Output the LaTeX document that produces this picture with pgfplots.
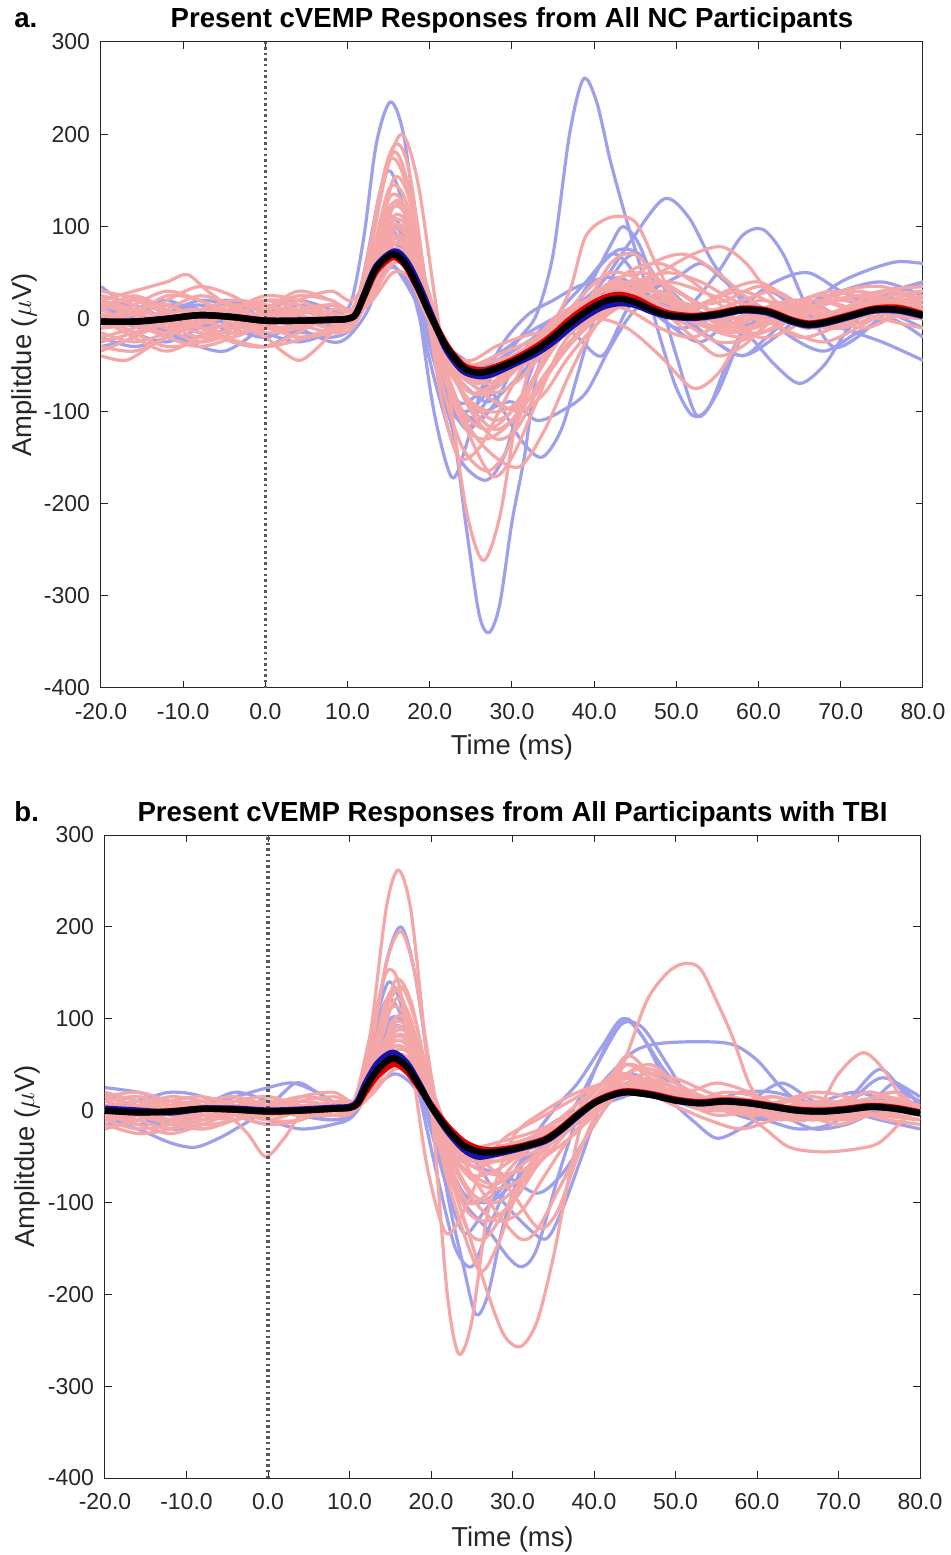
\documentclass[border=0pt]{standalone}
\usepackage{pgfplots}
\pgfplotsset{compat=1.18}
\usepackage{fontspec}
\setmainfont{Liberation Sans}

\definecolor{blueL}{RGB}{158,160,236}
\definecolor{redL}{RGB}{245,166,166}
\definecolor{blueM}{RGB}{20,20,170}
\definecolor{redM}{RGB}{225,0,0}
\definecolor{axgray}{RGB}{38,38,38}
\definecolor{dotgray}{RGB}{90,90,90}

\pgfplotsset{
  bl/.style={blueL, line width=1.6pt, smooth, no markers, line join=round},
  rd/.style={redL, line width=1.6pt, smooth, no markers, line join=round},
  mean/.style={line width=3.2pt, smooth, no markers, line join=round},
  zeroline/.style={dotgray, line width=1.7pt, dash pattern=on 1.2pt off 1.6pt, no markers},
  cvemp/.style={
    scale only axis,
    xmin=-20, xmax=80, ymin=-400, ymax=300,
    xtick={-20,-10,...,80}, ytick={-400,-300,...,300},
    tick pos=both, tick align=inside, major tick length=3.5pt,
    axis line style={axgray, line width=0.5pt},
    every tick/.style={axgray, line width=0.5pt},
    ticklabel style={font=\fontsize{11.5}{13}\selectfont, text=axgray},
    /pgf/number format/assume math mode=true,
    x tick label style={/pgf/number format/.cd, fixed, fixed zerofill, precision=1, /tikz/.cd, yshift=-4pt},
    y tick label style={xshift=-2pt},
    title style={font=\bfseries\fontsize{13.8}{16}\selectfont, at={(0.5,1)}, anchor=base, yshift=1pt},
    xlabel style={font=\fontsize{13.7}{16}\selectfont, text=axgray, at={(0.5,0)}, anchor=base, yshift=-33.5pt},
    ylabel style={font=\fontsize{13.7}{16}\selectfont, text=axgray, at={(0,0.5)}, anchor=center, yshift=38.5pt},
    xlabel={Time (ms)},
    ylabel={Amplitdue ($\mu$V)},
  },
}

\begin{document}
\begin{tikzpicture}
\path[use as bounding box] (0,0) rectangle (475.5pt,777.5pt);

% ---------------- panel a: NC ----------------
\begin{axis}[cvemp, at={(50.5pt,433.5pt)}, anchor=south west, width=411pt, height=323pt,
  title={Present cVEMP Responses from All NC Participants}]
% blue
\addplot[bl] coordinates {(-20,35) (-17,15) (-14,-5) (-11,-15) (-8,0) (-5,20) (-2,10) (0,-5) (3,-15) (6,-5) (9,5) (10.5,20) (12,90) (13.5,190) (15.2,235) (16.8,200) (18.5,90) (20,-10) (21.5,-80) (23,-130) (24.5,-230) (26,-320) (27.2,-340) (28.5,-310) (30,-220) (31.5,-150) (33,-60) (35,-10) (38,15) (42,30) (46,15) (50,-10) (54,0) (58,20) (62,5) (66,-10) (70,5) (75,15) (80,5)};
\addplot[bl] coordinates {(-20,-10) (-16,5) (-12,15) (-8,10) (-4,-10) (0,-20) (4,-5) (8,5) (10.5,5) (12.5,40) (15,100) (17,85) (19,30) (21,-40) (23.5,-90) (26,-80) (28.5,-50) (31,-20) (33,5) (35,70) (37,200) (38.7,260) (40.3,235) (42,170) (44,105) (46,45) (48,-20) (50,-75) (52,-105) (54,-95) (56.5,-40) (59,0) (62,10) (66,-10) (70,10) (75,25) (80,10)};
\addplot[bl] coordinates {(-20,5) (-16,-15) (-12,-25) (-8,-10) (-4,5) (0,15) (4,5) (8,-10) (10.5,0) (12,50) (14,140) (15.2,160) (16.8,120) (18.5,20) (20.5,-100) (22.7,-172) (24.5,-135) (26.5,-70) (29,-25) (32,5) (35,20) (38,35) (42,45) (45,30) (49,-5) (53,-25) (57,5) (61,30) (65,10) (70,-10) (75,25) (80,40)};
\addplot[bl] coordinates {(-20,-20) (-16,-30) (-12,-20) (-8,-5) (-4,-25) (0,-30) (4,-15) (8,-20) (10.5,-10) (12.5,30) (14.5,100) (16.5,80) (18.5,10) (21,-80) (23.5,-150) (26.7,-175) (29,-150) (31,-90) (33.5,-30) (36,10) (39,40) (42,70) (44,60) (47,20) (50,10) (54,-20) (58,-40) (61,-20) (65,10) (70,30) (75,40) (80,25)};
\addplot[bl] coordinates {(-20,10) (-16,20) (-12,5) (-8,-15) (-4,-10) (0,10) (4,20) (8,10) (10.5,0) (12.5,25) (15,60) (17,40) (19.5,0) (22,-30) (25,-50) (28,-85) (31,-130) (33.6,-150) (36,-120) (38,-60) (40,0) (42.5,50) (45,70) (48,40) (51,0) (54,-20) (58,-40) (62,-20) (66,10) (70,20) (75,10) (80,-10)};
\addplot[bl] coordinates {(-20,-5) (-16,10) (-12,20) (-8,5) (-4,-15) (0,-10) (4,10) (8,15) (10.5,10) (12.5,50) (15,110) (17,90) (19,30) (21.5,-50) (24,-100) (27,-80) (30,-45) (34,-15) (38,15) (41,40) (44.5,85) (48.5,130) (51.5,110) (54.5,60) (58,20) (62,0) (66,15) (70,40) (74,55) (77,62) (80,60)};
\addplot[bl] coordinates {(-20,15) (-16,0) (-12,-15) (-8,-30) (-5,-35) (-2,-20) (1,5) (4,15) (8,5) (10.5,0) (12.5,30) (15,75) (17,60) (19,10) (21.5,-40) (24,-70) (27,-90) (30,-70) (33,-40) (36,-10) (40,15) (44,35) (48,20) (51,10) (55,50) (58,90) (60.5,97) (63,70) (66,10) (69,-30) (72,-20) (76,10) (80,20)};
\addplot[bl] coordinates {(-20,0) (-15,-10) (-10,-20) (-6,-15) (-2,0) (2,10) (6,-5) (10,-5) (12,20) (14.5,90) (16.5,85) (18.5,20) (21,-60) (23.5,-110) (26,-100) (29,-60) (33,-20) (36,0) (39,30) (42,80) (43.5,100) (45.5,80) (48,20) (50,-40) (52.5,-105) (55,-80) (58,-20) (62,10) (66,0) (70,-10) (75,-25) (80,-45)};
\addplot[bl] coordinates {(-20,25) (-16,15) (-12,0) (-8,-10) (-4,5) (0,20) (4,10) (8,0) (10.5,0) (12.5,35) (15,80) (17,70) (19,20) (21.5,-35) (24,-60) (27,-50) (31,-30) (35,-5) (38,20) (40.5,55) (43,75) (45.5,70) (48,40) (52,10) (56,0) (59,-20) (62,-50) (65,-70) (68,-50) (71,-10) (75,20) (80,40)};
\addplot[bl] coordinates {(-20,-30) (-16,-20) (-12,5) (-8,15) (-4,0) (0,-15) (4,-25) (8,-15) (10.5,-5) (12.5,20) (15,55) (17,45) (19,5) (22,-40) (25,-55) (28,-40) (32,-15) (36,5) (40,25) (43,45) (46,30) (50,45) (53,60) (56,40) (60,10) (64,-20) (68,-35) (72,-15) (76,0) (80,-20)};
\addplot[bl] coordinates {(-20,5) (-16,-5) (-12,-10) (-8,5) (-4,20) (0,5) (4,-10) (8,-25) (10,-20) (12.5,10) (15,70) (17,60) (19,0) (21.5,-60) (24,-100) (26,-110) (28,-90) (31,-40) (35,0) (38,-20) (41,-40) (44,10) (47,40) (50,30) (54,10) (58,-10) (62,15) (66,20) (70,5) (75,30) (80,35)};
\addplot[bl] coordinates {(-20,10) (-14,0) (-8,20) (-3,10) (2,-10) (7,0) (10.5,5) (13,40) (15.5,90) (17.5,70) (19.5,0) (22,-80) (24.5,-120) (27,-100) (30,-90) (33,-110) (36,-100) (39,-80) (42,-30) (45,10) (49,30) (53,0) (57,10) (62,40) (66,50) (70,30) (75,10) (80,0)};
% red
\addplot[rd] coordinates {(-20,-40) (-17,-45) (-14,-30) (-10,-10) (-6,10) (-2,5) (2,-10) (6,-5) (10,0) (12,40) (14,140) (16.5,200) (18.5,150) (20.5,30) (22.5,-90) (24.5,-210) (26.5,-262) (28.5,-215) (30.5,-110) (33,-30) (36,5) (40,20) (44,30) (48,15) (52,0) (56,-10) (60,5) (65,15) (70,5) (75,10) (80,15)};
\addplot[rd] coordinates {(-20,20) (-16,30) (-12,40) (-9.5,48) (-7,30) (-3,5) (0,-10) (4,-5) (8,10) (10.5,10) (12.5,60) (14.5,160) (16,190) (17.5,160) (19.5,40) (21.5,-70) (24,-140) (27,-165) (29.5,-140) (32,-80) (35,-30) (38,10) (42,40) (46,50) (50,30) (54,10) (58,20) (62,30) (66,10) (70,-5) (75,15) (80,25)};
\addplot[rd] coordinates {(-20,-20) (-16,-10) (-12,5) (-8,10) (-4,-5) (0,-20) (2,-35) (4.2,-45) (6.5,-30) (9,-5) (11,15) (13,90) (15.5,180) (17.5,140) (19.5,20) (21.5,-90) (23.5,-150) (26,-140) (29,-90) (32,-40) (35,0) (39,20) (43,40) (47,30) (51,10) (55,0) (59,-10) (63,5) (67,20) (71,10) (75,0) (80,10)};
\addplot[rd] coordinates {(-20,5) (-16,-15) (-12,-30) (-8,-25) (-4,-10) (0,10) (4,30) (8,20) (10.5,10) (12.5,60) (15,170) (17,150) (19,60) (21.5,-40) (24,-100) (27,-120) (30,-100) (33,-60) (36,-20) (39,10) (43,30) (47,60) (51,70) (55,50) (59,20) (63,0) (67,-10) (71,0) (75,20) (80,10)};
\addplot[rd] coordinates {(-20,30) (-15,20) (-10,0) (-5,-20) (0,-30) (5,-20) (10,0) (12.5,50) (15,140) (17,130) (19,50) (21.5,-30) (24,-80) (27,-100) (30,-95) (33,-60) (36,-20) (40,10) (44,50) (48,60) (52,40) (56,10) (60,-20) (64,-10) (68,20) (72,30) (76,20) (80,0)};
\addplot[rd] coordinates {(-20,-10) (-16,0) (-12,20) (-8,35) (-4,25) (0,5) (4,0) (8,5) (10.5,0) (12.5,40) (15,130) (17,120) (19,40) (21.5,-50) (24,-110) (27.5,-170) (30,-150) (33,-90) (36,-30) (40,10) (44,20) (48,10) (52,-20) (55,-40) (58,-30) (62,0) (66,10) (70,20) (75,15) (80,5)};
\addplot[rd] coordinates {(-20,0) (-16,-20) (-12,-35) (-8,-20) (-4,0) (0,20) (4,15) (8,-5) (10.5,-5) (12.5,30) (15,120) (17,115) (19,50) (21.5,-20) (24,-60) (27,-70) (30,-55) (34,-30) (38,0) (42,60) (45,70) (48,40) (52,10) (56,30) (60,40) (64,20) (68,0) (72,10) (76,30) (80,20)};
\addplot[rd] coordinates {(-20,15) (-16,5) (-12,-5) (-8,-15) (-4,-20) (0,-5) (4,10) (8,15) (10.5,10) (13,50) (15.5,100) (17.5,90) (19.5,30) (22,-40) (25,-80) (28,-75) (31,-50) (34,-20) (37,30) (39,90) (42,110) (45,105) (47.5,60) (50,20) (54,0) (58,-10) (62,0) (66,-5) (70,10) (75,30) (80,35)};
\addplot[rd] coordinates {(-20,-5) (-16,10) (-12,15) (-8,0) (-4,-10) (0,0) (4,20) (8,30) (10.5,20) (13,50) (15.5,90) (17.5,80) (19.5,20) (22,-40) (25,-70) (28,-60) (32,-30) (36,0) (40,20) (44,30) (48,50) (52,70) (55.5,78) (58.5,60) (62,20) (66,0) (70,10) (75,20) (80,10)};
\addplot[rd] coordinates {(-20,10) (-16,25) (-12,10) (-8,-10) (-4,-15) (0,-10) (4,-20) (8,-15) (10.5,-5) (13,30) (15.5,80) (17.5,70) (19.5,20) (22,-40) (25,-65) (28,-60) (32,-40) (36,-20) (40,0) (44,-10) (48,-40) (52,-75) (55,-60) (58,-20) (62,10) (66,20) (70,15) (75,0) (80,-10)};
\addplot[rd] coordinates {(-20,-25) (-16,-15) (-12,0) (-8,10) (-4,20) (0,15) (4,0) (8,-10) (10.5,-5) (13,40) (15.5,110) (17.5,100) (19.5,40) (22,-30) (25,-70) (28,-80) (31,-65) (34,-35) (38,0) (42,20) (46,15) (50,5) (54,20) (58,30) (62,15) (66,-5) (70,-10) (75,5) (80,15)};
\addplot[rd] coordinates {(-20,20) (-16,10) (-12,-10) (-8,-25) (-4,-15) (0,10) (4,25) (8,20) (10.5,10) (13,35) (15.5,70) (17.5,60) (19.5,10) (22,-40) (25,-60) (28,-50) (31,-40) (34,-30) (38,-10) (42,10) (46,30) (50,20) (54,-10) (58,-20) (62,-10) (66,10) (70,30) (75,35) (80,20)};
\addplot[rd] coordinates {(-20,-15) (-16,-25) (-12,-15) (-8,5) (-4,15) (0,10) (4,-5) (8,-15) (10.5,-10) (13,30) (15.5,85) (17.5,75) (19.5,20) (22,-50) (25,-90) (28,-110) (31,-90) (34,-40) (37,0) (41,30) (45,40) (49,20) (53,5) (57,10) (61,0) (65,-20) (69,-10) (74,15) (80,30)};
\addplot[rd] coordinates {(-20,0) (-16,5) (-12,25) (-8,20) (-4,0) (0,-15) (4,-10) (8,0) (10.5,5) (13,40) (15.5,100) (17.5,90) (19.5,30) (22,-30) (25,-60) (29,-60) (33,-40) (37,-10) (41,20) (45,40) (49,50) (53,40) (57,20) (61,10) (65,20) (69,30) (74,20) (80,5)};
\addplot[rd] coordinates {(-20,5) (-16,-5) (-12,-15) (-8,-5) (-4,10) (0,25) (4,20) (8,5) (10.5,0) (13,25) (15.5,60) (17.5,55) (19.5,15) (22,-30) (25,-50) (28,-45) (32,-35) (36,-20) (40,5) (44,25) (48,20) (52,5) (56,-5) (60,0) (64,-15) (68,-25) (72,-10) (76,10) (80,20)};
\addplot[rd] coordinates {(-20,-35) (-16,-20) (-12,-5) (-8,-10) (-4,-25) (0,-30) (4,-15) (8,5) (10.5,5) (13,50) (15.5,120) (17.5,105) (19.5,40) (22,-40) (25,-100) (28,-130) (30.5,-120) (33,-80) (36,-40) (39,-10) (43,20) (47,10) (51,-5) (55,-25) (59,-20) (63,10) (67,25) (71,20) (75,5) (80,0)};
\addplot[rd] coordinates {(-20,15) (-16,20) (-12,5) (-8,-5) (-4,5) (0,15) (4,5) (8,-5) (10.5,0) (13,20) (15.5,50) (17.5,45) (19.5,5) (22,-35) (25,-55) (28,-50) (32,-30) (36,-15) (40,10) (44,20) (48,25) (52,15) (56,20) (60,35) (64,20) (68,0) (72,10) (76,25) (80,30)};
\addplot[rd] coordinates {(-20,-10) (-16,-5) (-12,10) (-8,25) (-4,15) (0,0) (4,-5) (8,5) (10.5,5) (13,45) (15.5,150) (17.5,130) (19.5,30) (22,-70) (24.5,-120) (27,-130) (30,-110) (33,-60) (36,-15) (40,15) (44,10) (48,-10) (52,-20) (56,0) (60,20) (64,10) (68,-10) (72,0) (76,15) (80,10)};
\addplot[rd] coordinates {(-20,0) (-16,10) (-12,0) (-8,-10) (-4,-5) (0,5) (4,10) (8,5) (10.5,0) (13,30) (15.5,75) (17.5,65) (19.5,15) (22,-35) (25,-45) (28,-30) (31,-20) (35,-10) (39,10) (43,35) (47,20) (51,0) (55,-10) (59,5) (63,15) (67,5) (71,10) (75,20) (80,15)};
\addplot[rd] coordinates {(-20,25) (-16,15) (-12,-5) (-8,-20) (-4,-10) (0,5) (4,0) (8,-10) (10.5,-5) (13,35) (15.5,95) (17.5,85) (19.5,25) (22,-50) (25,-80) (28,-70) (31,-50) (34,-30) (38,20) (42,50) (46,40) (50,10) (54,-10) (58,-5) (62,10) (66,0) (70,-5) (75,10) (80,25)};
\addplot[rd] coordinates {(-20,-30) (-16,-35) (-12,-20) (-8,0) (-4,10) (0,-5) (4,-20) (8,-10) (10.5,0) (13,40) (15.5,105) (17.5,95) (19.5,30) (22,-60) (25,-120) (28,-150) (31,-160) (34,-120) (37,-60) (40,-10) (44,30) (48,40) (52,20) (56,0) (60,10) (64,20) (68,10) (72,-5) (76,10) (80,20)};
\addplot[rd] coordinates {(-20,10) (-16,-5) (-12,-20) (-8,-30) (-4,-20) (0,0) (4,10) (8,0) (10.5,5) (13,45) (15.5,125) (17.5,110) (19.5,35) (22,-45) (25,-95) (28,-120) (31,-100) (34,-60) (37,-25) (41,10) (45,30) (49,40) (53,30) (57,15) (61,-5) (65,5) (69,20) (73,25) (77,15) (80,10)};
\addplot[rd] coordinates {(-20,-5) (-16,15) (-12,30) (-8,20) (-4,5) (0,-5) (4,5) (8,15) (10.5,10) (13,35) (15.5,65) (17.5,55) (19.5,10) (22,-35) (25,-50) (28,-40) (32,-25) (36,-5) (40,15) (44,25) (48,30) (52,10) (56,-10) (60,-15) (64,0) (68,15) (72,25) (76,30) (80,20)};
\addplot[rd] coordinates {(-20,20) (-16,5) (-12,-10) (-8,-5) (-4,10) (0,20) (4,10) (8,0) (10.5,0) (13,30) (15.5,80) (17.5,75) (19.5,20) (22,-45) (25,-70) (28,-90) (31,-100) (34,-80) (37,-40) (41,0) (45,20) (49,10) (53,-5) (57,-15) (61,-5) (65,15) (69,0) (73,-10) (77,5) (80,15)};
% zero line
\addplot[zeroline] coordinates {(0,-400) (0,300)};
% means
\addplot[mean, redM] coordinates {(-20,-3) (-16,-3) (-12,0) (-8,4) (-4,2) (0,-2) (4,-2) (8,-1) (10,0) (11,5) (12,24) (13.5,52) (15.5,67) (17,58) (18.5,34) (20,6) (22,-28) (24,-50) (25.5,-55) (27,-55) (30,-45) (33,-30) (35,-17) (37,-1) (39,12) (41,22) (43,26) (45,22) (47,13) (49,6) (52,3) (55,6) (58,11) (61,9) (64,-1) (66,-5) (68,-3) (71,4) (74,11) (77,12) (80,5)};
\addplot[mean, blueM] coordinates {(-20,-3) (-16,-3) (-12,0) (-8,4) (-4,2) (0,-2) (4,-2) (8,-1) (10,0) (11,5) (12,26) (13.5,57) (15.7,73) (17.2,62) (18.7,36) (20.2,4) (22,-33) (24,-56) (26,-62) (27.5,-60) (30,-50) (33,-37) (35,-25) (37,-10) (39,3) (41,13) (43,17) (45,15) (47,8) (49,3) (52,1) (55,4) (58,9) (61,7) (64,-3) (66,-7) (68,-5) (71,2) (74,9) (77,9) (80,3)};
\addplot[mean, black] coordinates {(-20,-3) (-16,-3) (-12,0) (-8,4) (-4,2) (0,-2) (4,-2) (8,-1) (10,0) (11,5) (12,25) (13.5,55) (15.5,70) (17,60) (18.5,35) (20,5) (22,-30) (24,-52) (25.5,-58) (27,-57) (30,-47) (33,-33) (35,-20) (37,-5) (39,8) (41,18) (43,22) (45,18) (47,10) (49,4) (52,2) (55,5) (58,10) (61,8) (64,-2) (66,-6) (68,-4) (71,3) (74,10) (77,10) (80,4)};
\end{axis}

% ---------------- panel b: TBI ----------------
\begin{axis}[cvemp, at={(52.5pt,38.5pt)}, anchor=south west, width=407.5pt, height=321.5pt,
  title={Present cVEMP Responses from All Participants with TBI},
  xlabel style={yshift=-0.5pt}, ylabel style={yshift=0.5pt}]
% blue
\addplot[bl] coordinates {(-20,10) (-16,15) (-12,5) (-8,-5) (-4,5) (0,10) (4,5) (8,0) (10.5,5) (12.5,50) (14.5,160) (16.3,200) (18,150) (20,30) (22,-90) (24,-170) (25.5,-222) (27,-200) (29,-120) (32,-40) (35,0) (38,30) (41,70) (43.5,100) (46,80) (49,30) (52,10) (56,0) (60,-10) (64,0) (68,10) (72,20) (76,10) (80,-5)};
\addplot[bl] coordinates {(-20,25) (-16,20) (-12,10) (-8,5) (-4,15) (0,25) (3,30) (6,20) (9,5) (11,15) (13,90) (14.8,140) (16.5,110) (18.5,30) (21,-50) (24,-100) (27,-130) (29.5,-160) (31.2,-170) (33,-150) (36,-60) (39,20) (42,80) (44,100) (46,80) (49,40) (53,10) (57,0) (61,-10) (65,-20) (69,-15) (73,10) (77,20) (80,10)};
\addplot[bl] coordinates {(-20,-10) (-16,-20) (-12,-35) (-9,-40) (-6,-30) (-3,-15) (0,0) (4,10) (8,5) (10.5,5) (13,50) (15,100) (17,90) (19,30) (21.5,-40) (24,-90) (27,-100) (30,-80) (33,-50) (36,-20) (39,10) (42,40) (45,65) (48,73) (53,75) (57,72) (60,55) (63,25) (66,5) (70,0) (74,10) (77,30) (80,5)};
\addplot[bl] coordinates {(-20,5) (-16,-5) (-12,-20) (-8,-15) (-4,0) (0,5) (3.4,30) (6,20) (9,5) (11,10) (13,60) (15,90) (17,85) (19,20) (21.5,-70) (24,-133) (26.5,-110) (29,-80) (32,-50) (35,-30) (38,10) (41,60) (43.5,95) (46,90) (49,50) (52,10) (55,0) (59,5) (63,0) (67,-10) (71,10) (75,45) (78,20) (80,10)};
\addplot[bl] coordinates {(-20,-15) (-16,-10) (-12,0) (-8,10) (-4,5) (0,-10) (4,-20) (8,-15) (10.5,-5) (13,40) (15.5,100) (17.5,80) (19.5,10) (22,-60) (25,-100) (28,-90) (31,-60) (34,-40) (37,-20) (40,0) (44,30) (48,20) (52,-10) (55,-30) (58,-20) (62,0) (66,5) (70,-5) (74,0) (80,0)};
\addplot[bl] coordinates {(-20,15) (-16,5) (-12,-10) (-8,0) (-4,10) (0,5) (4,-5) (8,-10) (10.5,-5) (13,30) (15.5,60) (17.5,50) (19.5,0) (22,-30) (25,-50) (28,-90) (31,-120) (34,-140) (36,-110) (38.5,-50) (41,10) (44,40) (47,30) (51,10) (55,0) (59,10) (63,30) (67,10) (71,0) (75,-10) (80,-20)};
\addplot[bl] coordinates {(-20,0) (-16,10) (-12,20) (-8,15) (-4,-5) (0,-15) (4,-10) (8,5) (10.5,5) (13,25) (15.5,40) (17.5,30) (19.5,5) (22,-20) (25,-40) (28,-45) (31,-35) (35,-20) (39,0) (43,25) (47,20) (51,10) (55,15) (59,10) (63,-5) (67,-20) (71,-15) (75,0) (80,10)};
\addplot[bl] coordinates {(-20,-5) (-16,-15) (-12,-10) (-8,5) (-4,20) (0,10) (4,-5) (8,-10) (10.5,0) (12.5,60) (14.5,120) (16.5,100) (18.5,20) (21,-80) (23,-150) (25,-170) (27,-130) (30,-70) (34,-20) (38,0) (42,10) (46,20) (50,10) (54,0) (58,10) (62,0) (66,-5) (70,5) (74,20) (80,0)};
\addplot[bl] coordinates {(-20,20) (-16,0) (-12,-15) (-8,-5) (-4,5) (0,0) (4,15) (8,10) (10.5,5) (13,35) (15.5,70) (17.5,60) (19.5,15) (22,-40) (25,-60) (29,-70) (33,-90) (36,-70) (39,-30) (42,10) (46,40) (50,30) (54,10) (58,20) (62,20) (66,10) (70,0) (74,30) (76,35) (80,15)};
% red
\addplot[rd] coordinates {(-20,5) (-16,0) (-12,-10) (-8,5) (-4,10) (0,0) (4,-5) (8,0) (10.5,5) (12.5,80) (14.5,220) (16,262) (17.5,220) (19,100) (20.5,-40) (22,-200) (23.4,-265) (25,-230) (27,-110) (30,-30) (34,0) (38,20) (42,30) (46,20) (50,10) (55,5) (60,10) (65,0) (70,-5) (75,5) (80,-5)};
\addplot[rd] coordinates {(-20,-10) (-16,-5) (-12,10) (-8,15) (-4,5) (0,-10) (4,-10) (8,5) (10.5,5) (12.5,60) (14.5,160) (16.3,195) (18,150) (20,40) (22,-60) (24.5,-130) (27,-200) (29,-245) (31,-257) (33,-230) (35,-160) (37,-70) (39,0) (42,30) (45,35) (49,20) (53,10) (57,0) (61,5) (65,10) (70,0) (75,-5) (80,-10)};
\addplot[rd] coordinates {(-20,15) (-16,5) (-12,-5) (-8,-15) (-4,-10) (0,5) (4,15) (8,10) (10.5,10) (12.5,80) (14.5,150) (16,140) (17.5,60) (19.5,-60) (21.8,-133) (24,-110) (26.5,-60) (29,-30) (33,-10) (37,10) (41,30) (44,40) (48,20) (52,10) (56,15) (60,10) (64,0) (68,-10) (72,0) (76,10) (80,5)};
\addplot[rd] coordinates {(-20,-15) (-16,-25) (-12,-20) (-8,-5) (-4,10) (0,15) (4,5) (8,-5) (10.5,0) (12.5,50) (14.5,120) (16,130) (18,80) (20,0) (22.5,-90) (25.8,-173) (28,-150) (31,-80) (34,-40) (37,-10) (41,20) (44,50) (47,40) (51,20) (55,10) (59,0) (63,-10) (67,0) (71,10) (75,5) (80,0)};
\addplot[rd] coordinates {(-20,10) (-16,15) (-12,5) (-8,-5) (-4,0) (0,10) (4,5) (8,0) (10.5,5) (12.5,40) (15,110) (17,100) (19,30) (21.5,-30) (24,-50) (27,-60) (30,-90) (33.2,-128) (35.5,-110) (38,-50) (41,10) (44,40) (47,50) (50,30) (54,10) (58,5) (62,15) (66,5) (70,0) (75,10) (80,0)};
\addplot[rd] coordinates {(-20,0) (-16,-10) (-12,-20) (-8,-10) (-4,0) (0,-5) (4,0) (8,10) (10.5,10) (13,40) (15.5,80) (17.5,70) (19.5,20) (22,-30) (25,-50) (28,-45) (32,-30) (36,-10) (39,5) (42,20) (44,60) (46.5,120) (49,150) (51,160) (53,155) (55,120) (57,80) (59,30) (61,5) (64,-10) (68,0) (72,10) (76,15) (80,5)};
\addplot[rd] coordinates {(-20,-5) (-16,5) (-12,15) (-8,10) (-4,-5) (0,-15) (4,-10) (8,5) (10.5,10) (13,45) (15.5,90) (17.5,80) (19.5,25) (22,-40) (25,-70) (28,-80) (31,-60) (34,-40) (37,-10) (40,20) (43,40) (46,30) (50,15) (54,10) (58,0) (61,-20) (64,-40) (68,-45) (72,-42) (75,-35) (78,-10) (80,0)};
\addplot[rd] coordinates {(-20,5) (-16,10) (-12,5) (-8,0) (-5,-5) (-2.5,-25) (-0.3,-50) (2,-30) (4,-5) (7,5) (10.5,5) (13,30) (15.5,75) (17.5,65) (19.5,15) (22,-40) (25,-60) (28,-55) (31,-45) (34,-30) (38,-5) (42,20) (46,30) (50,20) (54,5) (58,10) (62,15) (66,5) (70,0) (75,10) (80,5)};
\addplot[rd] coordinates {(-20,-10) (-16,-20) (-12,-15) (-8,0) (-4,10) (0,5) (4,-5) (8,-5) (10.5,0) (13,35) (15.5,70) (17.5,60) (19.5,10) (22,-40) (25,-70) (28,-65) (32,-40) (36,-15) (40,10) (44,30) (48,20) (52,5) (56,0) (60,10) (64,-10) (67,-5) (70,40) (73,63) (75.5,45) (78,10) (80,-5)};
\addplot[rd] coordinates {(-20,20) (-16,10) (-12,0) (-8,-10) (-4,-5) (0,5) (4,10) (8,5) (10.5,5) (13,50) (15.5,120) (17.5,100) (19.5,20) (22,-60) (24.5,-110) (27,-120) (30,-100) (33,-60) (36,-20) (40,10) (44,25) (48,30) (52,15) (56,0) (60,-5) (64,5) (68,10) (72,0) (76,-10) (80,-15)};
\addplot[rd] coordinates {(-20,-20) (-16,-10) (-12,5) (-8,10) (-4,0) (0,-10) (4,0) (8,10) (10.5,5) (13,40) (15.5,100) (17.5,90) (19.5,30) (22,-40) (25,-90) (28,-100) (31,-80) (34,-50) (37,-20) (41,20) (44,60) (47,40) (51,20) (55,30) (59,20) (63,0) (67,-10) (71,0) (75,10) (80,-5)};
\addplot[rd] coordinates {(-20,0) (-16,5) (-12,0) (-8,-5) (-4,5) (0,10) (4,5) (8,0) (10.5,0) (13,25) (15.5,55) (17.5,50) (19.5,10) (22,-30) (25,-45) (28,-40) (32,-30) (36,-15) (40,5) (44,20) (48,15) (52,10) (56,20) (60,15) (64,0) (68,-10) (72,-5) (76,5) (80,0)};
\addplot[rd] coordinates {(-20,10) (-16,0) (-12,-10) (-8,-20) (-4,-10) (0,0) (4,15) (8,20) (10.5,10) (13,30) (15.5,60) (17.5,55) (19.5,15) (22,-35) (25,-55) (28,-50) (31,-45) (34,-35) (38,-10) (42,15) (46,40) (50,35) (54,20) (58,10) (62,0) (66,5) (70,10) (74,20) (78,5) (80,-5)};
\addplot[rd] coordinates {(-20,-5) (-16,-15) (-12,-25) (-8,-15) (-4,0) (0,10) (4,5) (8,-5) (10.5,0) (13,45) (15.5,140) (17.5,120) (19.5,40) (22,-50) (24.5,-100) (27,-90) (30,-60) (33,-30) (37,0) (41,30) (44,50) (47,35) (51,10) (55,-5) (59,0) (63,10) (67,20) (71,15) (75,0) (80,-10)};
\addplot[rd] coordinates {(-20,15) (-16,20) (-12,10) (-8,0) (-4,-5) (0,-5) (4,0) (8,5) (10.5,0) (13,30) (15.5,80) (17.5,75) (19.5,25) (22,-30) (25,-60) (28,-70) (31,-65) (34,-50) (37,-30) (40,-5) (43,20) (46,20) (50,5) (54,-10) (58,-20) (62,-10) (66,0) (70,-10) (74,-5) (80,5)};
\addplot[rd] coordinates {(-20,-10) (-16,0) (-12,10) (-8,5) (-4,-5) (0,-5) (4,10) (8,15) (10.5,10) (13,40) (15.5,100) (17.5,95) (19.5,40) (22,-20) (25,-70) (28,-110) (31,-140) (33,-130) (36,-80) (39,-30) (42,10) (45,30) (49,20) (53,10) (57,5) (61,0) (65,-10) (69,-5) (73,10) (77,20) (80,0)};
\addplot[rd] coordinates {(-20,5) (-16,-5) (-12,-10) (-8,0) (-4,10) (0,15) (4,5) (8,-5) (10.5,0) (13,20) (15.5,45) (17.5,40) (19.5,10) (22,-25) (25,-40) (28,-35) (32,-25) (36,-10) (40,10) (44,25) (48,20) (52,10) (56,5) (60,0) (64,-5) (68,0) (72,5) (76,0) (80,-5)};
\addplot[rd] coordinates {(-20,0) (-16,5) (-12,-5) (-8,-10) (-4,0) (0,0) (4,-5) (8,0) (10.5,5) (12.5,50) (14.5,110) (16.3,135) (18,100) (20,20) (22.5,-70) (24.5,-130) (26.5,-140) (29,-110) (32,-60) (35,-30) (39,0) (43,35) (46,30) (50,15) (54,5) (58,10) (62,5) (66,-5) (70,-15) (74,-5) (80,0)};
\addplot[rd] coordinates {(-20,10) (-16,15) (-12,5) (-8,-5) (-4,-10) (0,0) (4,10) (8,5) (10.5,5) (13,35) (15.5,85) (17.5,80) (19.5,25) (22,-40) (25,-75) (28,-85) (31,-75) (34,-50) (37,-20) (41,15) (44,35) (47,30) (51,15) (55,5) (59,10) (63,5) (67,-5) (71,0) (75,10) (80,5)};
\addplot[rd] coordinates {(-20,-5) (-16,-10) (-12,0) (-8,10) (-4,15) (0,5) (4,-5) (8,0) (10.5,5) (13,30) (15.5,65) (17.5,60) (19.5,15) (22,-30) (25,-50) (28,-55) (31,-50) (34,-40) (37,-20) (40,5) (43,25) (46,35) (50,25) (54,10) (58,0) (62,-5) (66,0) (70,5) (74,10) (78,0) (80,-5)};
\addplot[rd] coordinates {(-20,0) (-16,-5) (-12,-15) (-8,-20) (-4,-10) (0,0) (4,5) (8,5) (10.5,5) (13,40) (15.5,95) (17.5,85) (19.5,30) (22,-45) (25,-95) (28,-120) (31,-110) (34,-70) (37,-30) (41,10) (44,40) (47,45) (51,25) (55,10) (59,5) (63,10) (67,15) (71,5) (75,-5) (80,-10)};
% zero line
\addplot[zeroline] coordinates {(0,-400) (0,300)};
% means
\addplot[mean, redM] coordinates {(-20,0) (-16,-2) (-12,-1) (-8,2) (-4,1) (0,-1) (4,0) (8,2) (10,3) (11,7) (12,21) (13.5,39) (15.5,51) (17,43) (18.5,26) (20,6) (22,-17) (24,-34) (26,-42) (28,-43) (31,-39) (34,-31) (36,-19) (38,-4) (40,9) (42,17) (44,21) (47,18) (50,12) (53,9) (56,11) (59,9) (62,5) (65,1) (68,0) (71,2) (74,5) (77,3) (80,-2)};
\addplot[mean, blueM] coordinates {(-20,2) (-16,0) (-12,-2) (-8,2) (-4,2) (0,0) (4,1) (8,3) (10,4) (11,10) (12,30) (13.5,52) (15.3,63) (17,52) (18.5,30) (20,5) (22,-22) (24,-42) (25.7,-50) (27.5,-48) (30.5,-42) (34,-33) (36,-21) (38,-6) (40,8) (42,16) (44,20) (47,17) (50,11) (53,8) (56,10) (59,8) (62,4) (65,0) (68,-1) (71,1) (74,4) (77,2) (80,-3)};
\addplot[mean, black] coordinates {(-20,0) (-16,-2) (-12,-1) (-8,2) (-4,1) (0,-1) (4,0) (8,2) (10,3) (11,8) (12,25) (13.5,45) (15.3,57) (17,48) (18.5,28) (20,5) (22,-20) (24,-38) (26,-45) (28,-45) (31,-40) (34,-32) (36,-20) (38,-5) (40,8) (42,16) (44,20) (47,17) (50,11) (53,8) (56,10) (59,8) (62,4) (65,0) (68,-1) (71,1) (74,4) (77,2) (80,-3)};
\end{axis}

\node[font=\bfseries\fontsize{13.8}{16}\selectfont, anchor=base west, inner sep=0pt] at (7pt,763.5pt) {a.};
\node[font=\bfseries\fontsize{13.8}{16}\selectfont, anchor=base west, inner sep=0pt] at (7pt,366.5pt) {b.};
\end{tikzpicture}
\end{document}
